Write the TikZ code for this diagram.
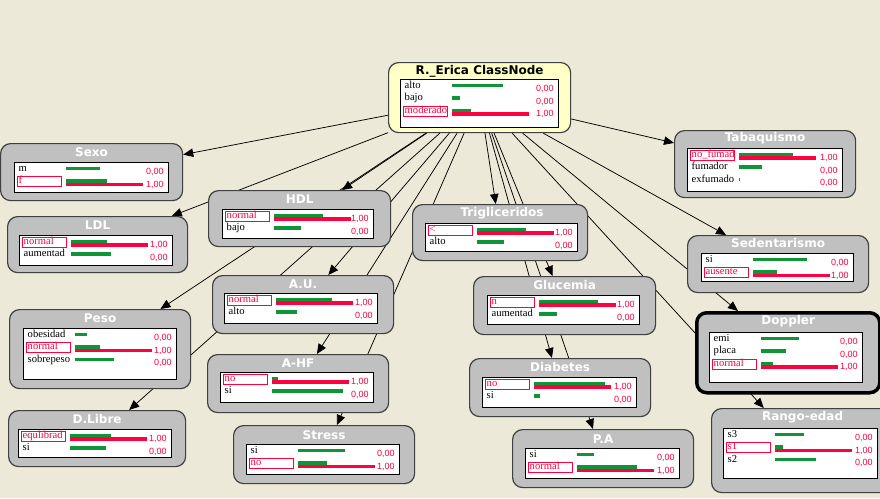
\documentclass[tikz,border=0pt]{standalone}
\usepackage{fontspec}
\setmainfont{Liberation Serif}
\newfontfamily\ttlfont{DejaVu Sans}
\newfontfamily\valfont{Liberation Sans}
\usepackage{tikz}
\usetikzlibrary{calc,arrows.meta,backgrounds}
\definecolor{desk}{HTML}{ECE9D8}
\definecolor{boxgray}{HTML}{C0C0C0}
\definecolor{classfill}{HTML}{FFFFC8}
\definecolor{bargreen}{HTML}{0F9438}
\definecolor{evred}{HTML}{FF0040}

% one state of a monitor: label, green bar, value
\newcommand{\strow}[5]{%
  \node[stlabel] at ($(#1.north west)+(4.5,{7+12.5*#2})$) {#3};
  \fill[bargreen] ($(#1.north west)+(52,{4.8+12.5*#2})$) rectangle ++(#4,3.4);
  \node[stval] at ($(#1.north east)+(-5,{10+12.5*#2})$) {#5};
}
% the observed state: framed red label and full red bar
\newcommand{\obsrow}[5]{%
  \draw[evred, line width=0.7pt] ($(#1.north west)+(3,{2+12.5*#2})$) rectangle ++(44,10);
  \node[stlabel, text=evred] at ($(#1.north west)+(4.5,{7+12.5*#2})$) {#3};
  \fill[bargreen] ($(#1.north west)+(52,{4.8+12.5*#2})$) rectangle ++(#4,3.4);
  \fill[evred] ($(#1.north west)+(52,{8.2+12.5*#2})$) rectangle ++(76.5,3.4);
  \node[stval] at ($(#1.north east)+(-5,{10+12.5*#2})$) {#5};
}

\begin{document}
\begin{tikzpicture}[x=1pt, y=-1pt,
  varbox/.style={draw=black!75, line width=1.2pt, fill=boxgray, rounded corners=10pt,
    anchor=north west, inner sep=0pt, minimum width=181pt, minimum height=57pt},
  statebox/.style={draw=black, line width=0.9pt, fill=white, anchor=north west,
    inner sep=0pt, minimum width=153pt, minimum height=30pt},
  ttl/.style={font=\ttlfont\bfseries\fontsize{12}{14}\selectfont, text=white, inner sep=0pt},
  stlabel/.style={anchor=west, inner sep=0pt, font=\fontsize{10.6}{12}\selectfont,
    text height=6.5pt, text depth=2pt},
  stval/.style={anchor=east, inner sep=0pt, text=evred, font=\valfont\fontsize{9}{11}\selectfont,
    text height=6.5pt, text depth=1.5pt},
  link/.style={-{Triangle[length=10pt,width=8.5pt]}, line width=0.75pt, black}]
\useasboundingbox (0,0) rectangle (880,498);
\begin{scope}[on background layer]
  \fill[desk] (0,0) rectangle (880,498);
\end{scope}

% class node
\node[varbox, fill=classfill, minimum width=182pt, minimum height=70pt] (cls) at (388,62) {};
\node[ttl, text=black] at ($(cls.north)+(0,9)$) {R.\_Erica ClassNode};
\node[statebox, minimum width=158pt, minimum height=48pt] (clsst) at (400,79) {};
\strow{clsst}{0}{alto}{51}{0,00}
\strow{clsst}{1}{bajo}{8}{0,00}
\obsrow{clsst}{2}{moderado}{19}{1,00}

% left column
\node[varbox, minimum width=182pt] (sexo) at (0,143) {};
\node[ttl] at ($(sexo.north)+(0,9)$) {Sexo};
\node[statebox, minimum width=154pt] (sexost) at (14,162) {};
\strow{sexost}{0}{m}{34}{0,00}
\obsrow{sexost}{1}{f}{41}{1,00}

\node[varbox, minimum width=180pt, minimum height=56pt] (ldl) at (7,216) {};
\node[ttl] at ($(ldl.north)+(0,9)$) {LDL};
\node[statebox] (ldlst) at (19,235) {};
\obsrow{ldlst}{0}{normal}{36}{1,00}
\strow{ldlst}{1}{aumentad}{40}{0,00}

\node[varbox, minimum height=79pt] (peso) at (9,309) {};
\node[ttl] at ($(peso.north)+(0,9)$) {Peso};
\node[statebox, minimum height=51pt] (pesost) at (23,328) {};
\strow{pesost}{0}{obesidad}{12}{0,00}
\obsrow{pesost}{1}{normal}{25}{1,00}
\strow{pesost}{2}{sobrepeso}{39}{0,00}

\node[varbox, minimum width=177pt, minimum height=56pt] (dlibre) at (8,410) {};
\node[ttl] at ($(dlibre.north)+(0,9)$) {D.Libre};
\node[statebox, minimum height=28pt] (dlibrest) at (18,429) {};
\obsrow{dlibrest}{0}{equlibrad}{41}{1,00}
\strow{dlibrest}{1}{si}{36}{0,00}

% second column
\node[varbox, minimum width=182pt, minimum height=56pt] (hdl) at (208,190) {};
\node[ttl] at ($(hdl.north)+(0,9)$) {HDL};
\node[statebox, minimum width=151pt, minimum height=29pt] (hdlst) at (222,209) {};
\obsrow{hdlst}{0}{normal}{49}{1,00}
\strow{hdlst}{1}{bajo}{27}{0,00}

\node[varbox, minimum height=58pt] (au) at (212,275) {};
\node[ttl] at ($(au.north)+(0,9)$) {A.U.};
\node[statebox] (aust) at (224,293) {};
\obsrow{aust}{0}{normal}{56}{1,00}
\strow{aust}{1}{alto}{21}{0,00}

\node[varbox, minimum height=58pt] (ahf) at (207,354) {};
\node[ttl] at ($(ahf.north)+(0,9)$) {A-HF};
\node[statebox] (ahfst) at (220,372) {};
\obsrow{ahfst}{0}{no}{6}{1,00}
\strow{ahfst}{1}{si}{71}{0,00}

\node[varbox, minimum height=58pt] (stress) at (233,425) {};
\node[ttl] at ($(stress.north)+(0,10)$) {Stress};
\node[statebox] (stressst) at (246,444) {};
\strow{stressst}{0}{si}{47}{0,00}
\obsrow{stressst}{1}{no}{29}{1,00}

% third column
\node[varbox, minimum width=175pt, minimum height=56pt] (trig) at (412,204) {};
\node[ttl] at ($(trig.north)+(2,9)$) {Trigliceridos};
\node[statebox, minimum width=152pt, minimum height=28pt] (trigst) at (425,223) {};
\obsrow{trigst}{0}{<}{49}{1,00}
\strow{trigst}{1}{alto}{27}{0,00}

\node[varbox, minimum width=182pt, minimum height=58pt] (gluc) at (473,276) {};
\node[ttl] at ($(gluc.north)+(0,9)$) {Glucemia};
\node[statebox, minimum width=152pt, minimum height=29pt] (glucst) at (487,295) {};
\obsrow{glucst}{0}{n}{59}{1,00}
\strow{glucst}{1}{aumentad}{18}{0,00}

\node[varbox, minimum height=58pt] (diab) at (469,358) {};
\node[ttl] at ($(diab.north)+(0,9)$) {Diabetes};
\node[statebox, minimum width=154pt] (diabst) at (482,377) {};
\obsrow{diabst}{0}{no}{71}{1,00}
\strow{diabst}{1}{si}{6}{0,00}

\node[varbox, minimum height=58pt] (pa) at (512,429) {};
\node[ttl] at ($(pa.north)+(0,10)$) {P.A};
\node[statebox, minimum width=154pt] (past) at (525,448) {};
\strow{past}{0}{si}{17}{0,00}
\obsrow{past}{1}{normal}{60}{1,00}

% right column
\node[varbox, minimum height=67pt] (tab) at (674,130) {};
\node[ttl] at ($(tab.north)+(0,8)$) {Tabaquismo};
\node[statebox, minimum width=155pt, minimum height=43pt] (tabst) at (687,148) {};
\obsrow{tabst}{0}{no\_fumad}{54}{1,00}
\strow{tabst}{1}{fumador}{23}{0,00}
\strow{tabst}{2}{exfumado}{1}{0,00}

\node[varbox] (sed) at (687,235) {};
\node[ttl] at ($(sed.north)+(0,8)$) {Sedentarismo};
\node[statebox, minimum width=152pt, minimum height=28pt] (sedst) at (701,253) {};
\strow{sedst}{0}{si}{54}{0,00}
\obsrow{sedst}{1}{ausente}{24}{1,00}

\node[varbox, draw=black, line width=3.5pt, minimum width=183pt, minimum height=80pt] (doppler) at (695,311) {};
\node[ttl] at ($(doppler.north)+(0,10)$) {Doppler};
\node[statebox, minimum height=50pt] (doppst) at (709,332) {};
\strow{doppst}{0}{emi}{38}{0,00}
\strow{doppst}{1}{placa}{25}{0,00}
\obsrow{doppst}{2}{normal}{12}{1,00}

\node[varbox, minimum width=182pt, minimum height=84pt] (rango) at (711,408) {};
\node[ttl] at ($(rango.north)+(0,9)$) {Rango-edad};
\node[statebox, minimum width=154pt, minimum height=50pt] (rangost) at (723,428) {};
\strow{rangost}{0}{s3}{29}{0,00}
\obsrow{rangost}{1}{s1}{8}{1,00}
\strow{rangost}{2}{s2}{41}{0,00}

% class node to every attribute, behind the boxes
\begin{scope}[on background layer]
  \foreach \v in {sexo,ldl,peso,dlibre,hdl,au,ahf,stress,trig,gluc,diab,pa,tab,sed,doppler,rango}
    \draw[link] (cls) -- (\v);
\end{scope}
\end{tikzpicture}
\end{document}
